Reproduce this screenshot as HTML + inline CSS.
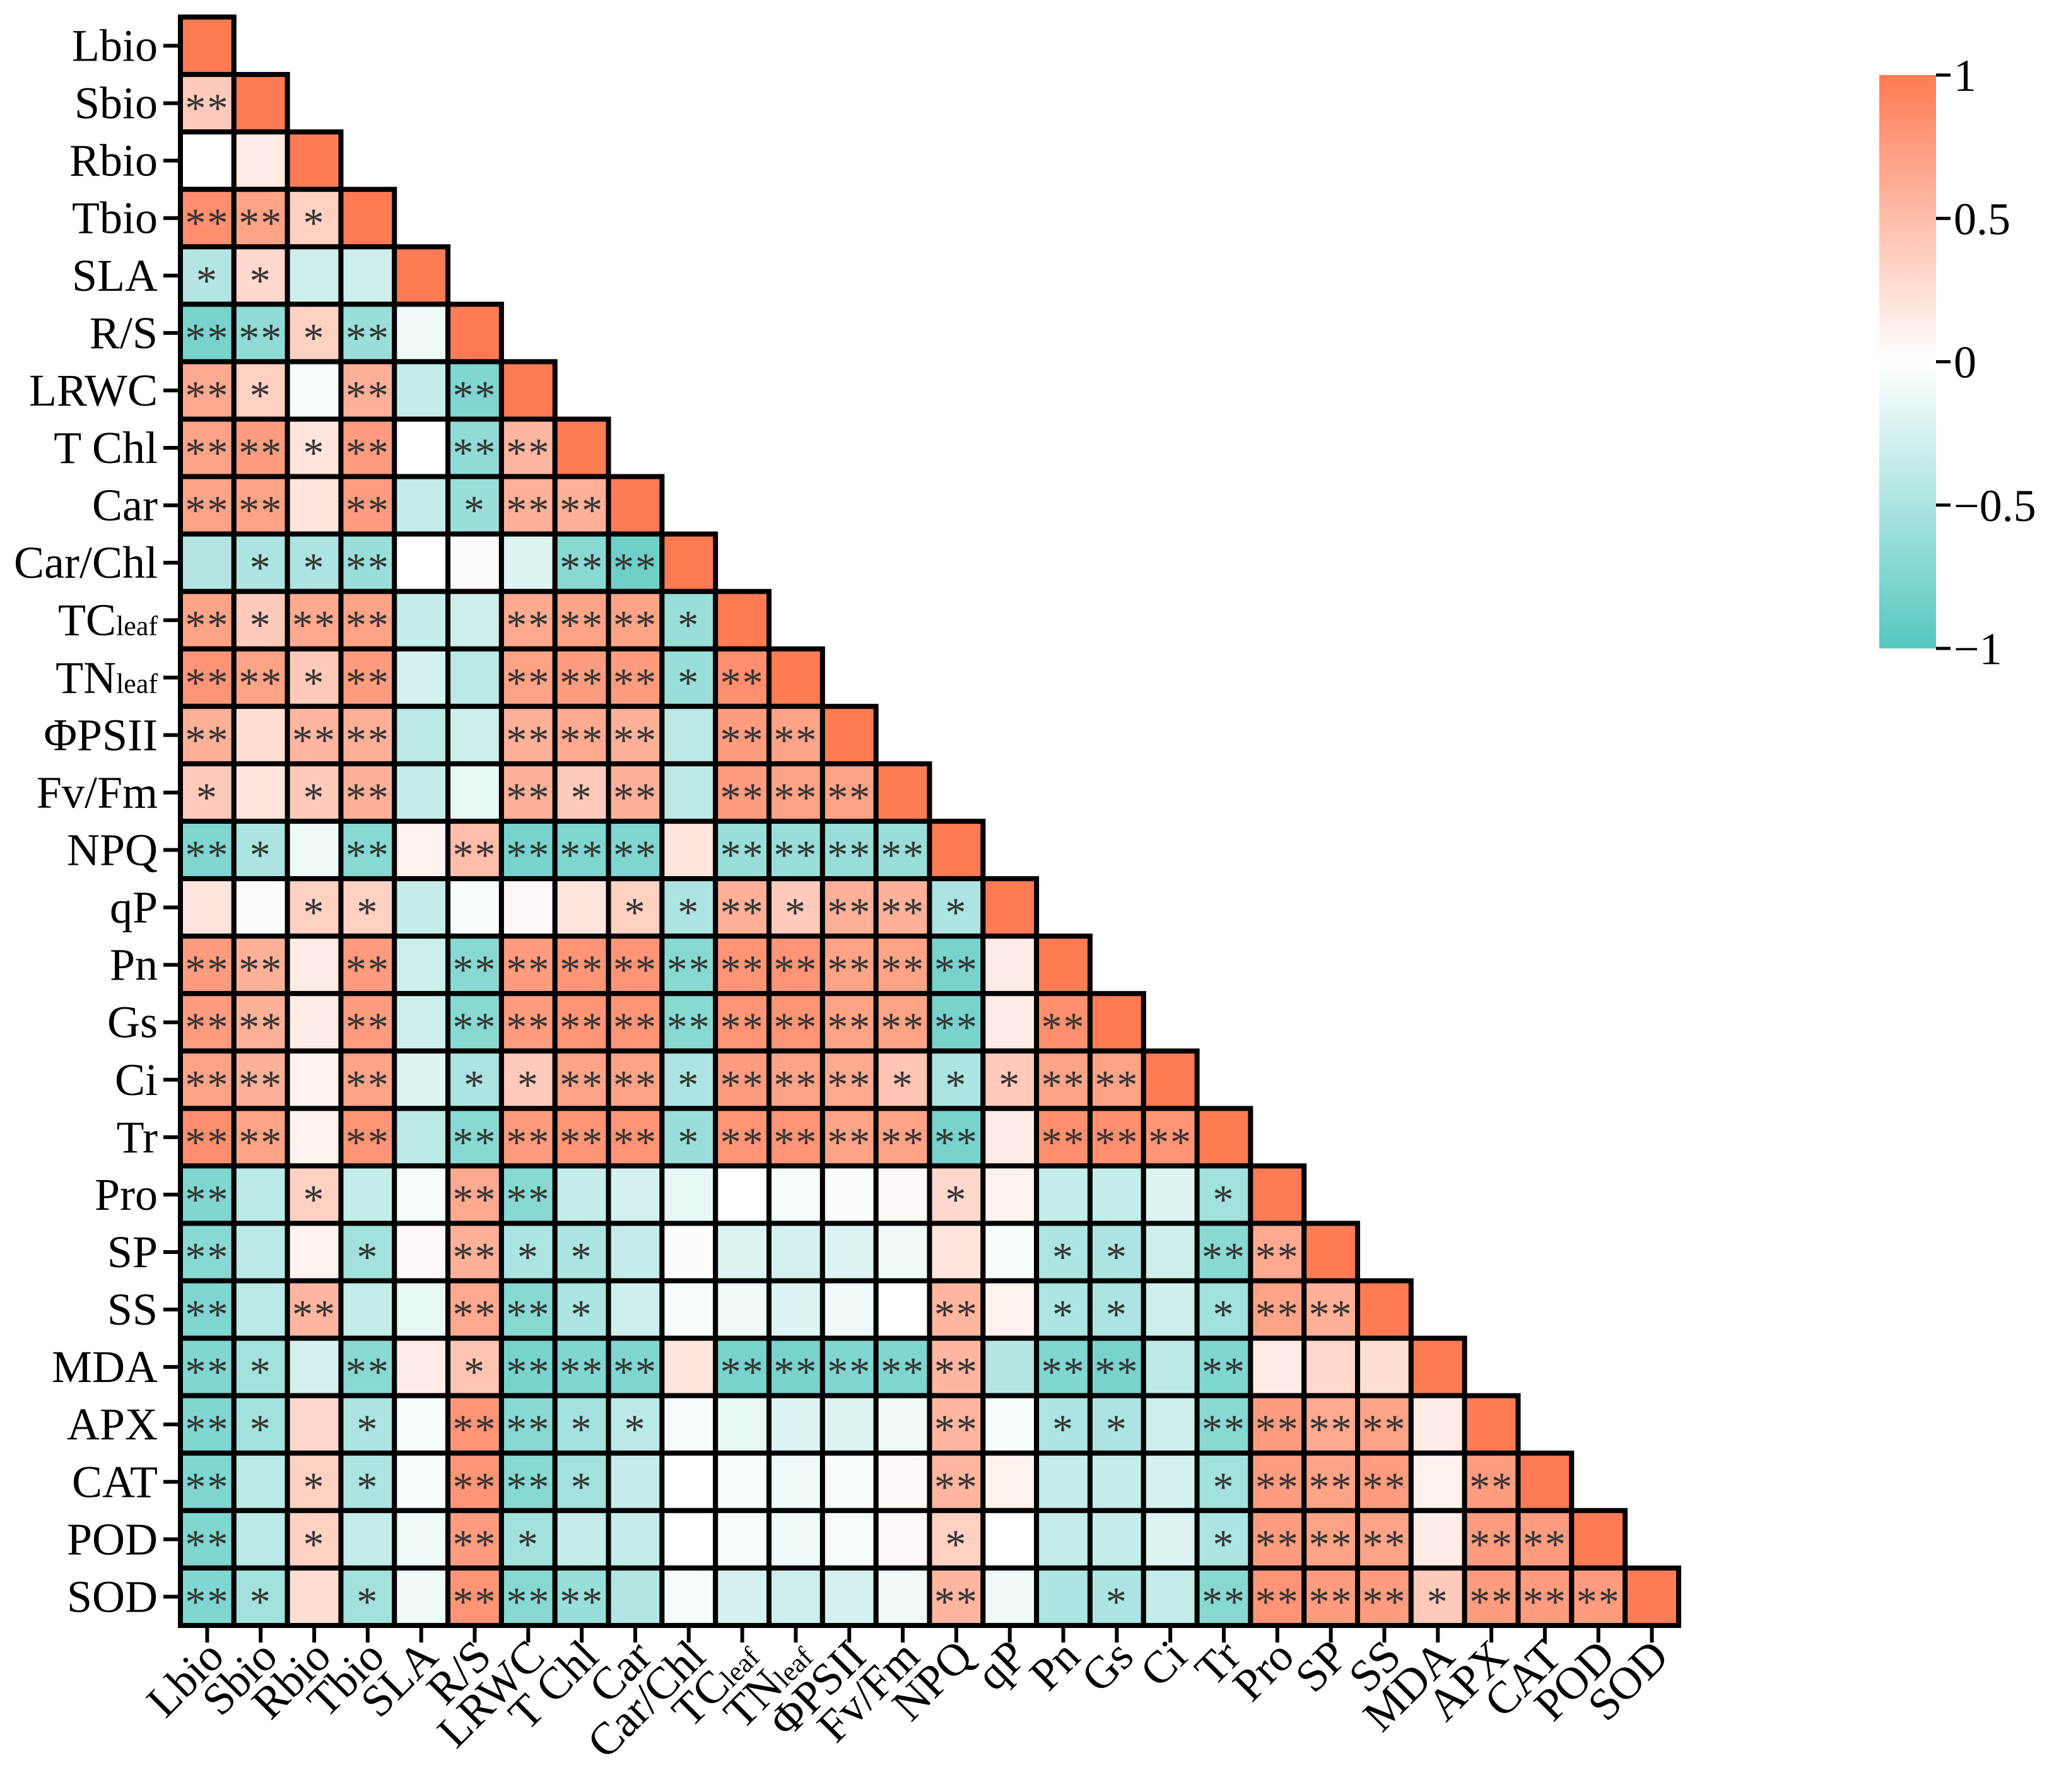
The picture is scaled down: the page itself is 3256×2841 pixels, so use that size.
<!DOCTYPE html>
<html><head><meta charset="utf-8">
<style>
html,body{margin:0;padding:0;background:#fff;}
svg{display:block;font-family:"Liberation Serif",serif;}
</style></head>
<body>
<svg id="chart" width="3256" height="2841" viewBox="0 0 3256 2841" xmlns="http://www.w3.org/2000/svg">
<defs>
<linearGradient id="cbgrad" x1="0" y1="0" x2="0" y2="1">
<stop offset="0" stop-color="rgb(255,123,84)"/>
<stop offset="0.5" stop-color="#ffffff"/>
<stop offset="1" stop-color="rgb(86,200,192)"/>
</linearGradient>
</defs>
<g id="cells"></g>
<g id="ylabels"></g>
<g id="xlabels"></g>
<g>
<rect x="2979" y="119" width="90" height="909" fill="url(#cbgrad)"/>
<g id="cbticks"></g>
</g>
</svg>
<script>
const labels = ["Lbio","Sbio","Rbio","Tbio","SLA","R/S","LRWC","T Chl","Car","Car/Chl","TC|leaf","TN|leaf","ΦPSII","Fv/Fm","NPQ","qP","Pn","Gs","Ci","Tr","Pro","SP","SS","MDA","APX","CAT","POD","SOD"];
const values = [
[],
[0.4],
[0.0,0.15],
[0.85,0.7,0.35],
[-0.45,0.3,-0.3,-0.3],
[-0.8,-0.65,0.35,-0.6,-0.1],
[0.65,0.35,-0.05,0.6,-0.35,-0.75],
[0.7,0.75,0.2,0.75,0.0,-0.65,0.55],
[0.7,0.7,0.2,0.75,-0.35,-0.6,0.6,0.6],
[-0.45,-0.5,-0.5,-0.6,0.0,0.03,-0.2,-0.7,-0.85],
[0.7,0.4,0.65,0.7,-0.35,-0.3,0.65,0.7,0.7,-0.6],
[0.8,0.7,0.4,0.75,-0.25,-0.4,0.7,0.75,0.75,-0.6,0.85],
[0.6,0.25,0.55,0.6,-0.4,-0.3,0.6,0.65,0.6,-0.4,0.75,0.7],
[0.4,0.2,0.4,0.6,-0.35,-0.15,0.6,0.4,0.6,-0.4,0.75,0.7,0.7],
[-0.75,-0.5,-0.1,-0.7,0.1,0.5,-0.8,-0.75,-0.75,0.2,-0.6,-0.6,-0.6,-0.6],
[0.2,0.03,0.35,0.35,-0.35,-0.05,0.05,0.2,0.35,-0.5,0.6,0.4,0.6,0.6,-0.5],
[0.75,0.6,0.15,0.75,-0.3,-0.7,0.75,0.8,0.8,-0.7,0.8,0.8,0.7,0.7,-0.8,0.15],
[0.75,0.6,0.15,0.75,-0.3,-0.7,0.75,0.8,0.8,-0.7,0.8,0.8,0.7,0.7,-0.8,0.15,0.85],
[0.7,0.6,0.1,0.7,-0.2,-0.5,0.4,0.7,0.7,-0.5,0.75,0.7,0.65,0.45,-0.5,0.4,0.7,0.7],
[0.85,0.7,0.1,0.8,-0.4,-0.7,0.75,0.8,0.8,-0.6,0.8,0.8,0.7,0.7,-0.8,0.15,0.85,0.85,0.8],
[-0.75,-0.4,0.35,-0.35,-0.05,0.65,-0.7,-0.35,-0.25,-0.15,0.0,-0.05,-0.03,0.05,0.3,0.1,-0.35,-0.35,-0.2,-0.55],
[-0.7,-0.4,0.1,-0.55,0.05,0.6,-0.5,-0.5,-0.35,0.03,-0.2,-0.25,-0.2,-0.1,0.2,-0.05,-0.5,-0.5,-0.3,-0.7,0.65],
[-0.75,-0.4,0.55,-0.35,-0.15,0.65,-0.7,-0.5,-0.3,-0.05,-0.1,-0.2,-0.1,0.0,0.55,0.1,-0.5,-0.5,-0.3,-0.55,0.7,0.6],
[-0.75,-0.55,-0.25,-0.7,0.15,0.45,-0.8,-0.75,-0.75,0.2,-0.8,-0.8,-0.75,-0.75,0.55,-0.45,-0.75,-0.8,-0.4,-0.75,0.15,0.3,0.25],
[-0.75,-0.55,0.3,-0.5,-0.05,0.8,-0.7,-0.55,-0.4,-0.05,-0.15,-0.2,-0.2,-0.1,0.55,-0.05,-0.5,-0.5,-0.3,-0.7,0.75,0.65,0.7,0.15],
[-0.75,-0.4,0.35,-0.5,-0.05,0.8,-0.7,-0.55,-0.35,0.0,-0.05,-0.1,-0.05,0.05,0.55,0.1,-0.35,-0.35,-0.25,-0.55,0.75,0.7,0.75,0.1,0.75],
[-0.75,-0.4,0.35,-0.35,-0.1,0.75,-0.55,-0.35,-0.35,0.0,-0.05,-0.1,-0.05,0.05,0.35,0.0,-0.35,-0.35,-0.2,-0.5,0.75,0.7,0.7,0.15,0.75,0.75],
[-0.75,-0.55,0.25,-0.55,-0.1,0.8,-0.7,-0.6,-0.45,-0.05,-0.25,-0.3,-0.25,-0.1,0.55,-0.1,-0.5,-0.5,-0.35,-0.7,0.8,0.75,0.75,0.4,0.75,0.75,0.75]
];
const sigs = [
[],
["**"],
["",""],
["**","**","*"],
["*","*","",""],
["**","**","*","**",""],
["**","*","","**","","**"],
["**","**","*","**","","**","**"],
["**","**","","**","","*","**","**"],
["","*","*","**","","","","**","**"],
["**","*","**","**","","","**","**","**","*"],
["**","**","*","**","","","**","**","**","*","**"],
["**","","**","**","","","**","**","**","","**","**"],
["*","","*","**","","","**","*","**","","**","**","**"],
["**","*","","**","","**","**","**","**","","**","**","**","**"],
["","","*","*","","","","","*","*","**","*","**","**","*"],
["**","**","","**","","**","**","**","**","**","**","**","**","**","**",""],
["**","**","","**","","**","**","**","**","**","**","**","**","**","**","","**"],
["**","**","","**","","*","*","**","**","*","**","**","**","*","*","*","**","**"],
["**","**","","**","","**","**","**","**","*","**","**","**","**","**","","**","**","**"],
["**","","*","","","**","**","","","","","","","","*","","","","","*"],
["**","","","*","","**","*","*","","","","","","","","","*","*","","**","**"],
["**","","**","","","**","**","*","","","","","","","**","","*","*","","*","**","**"],
["**","*","","**","","*","**","**","**","","**","**","**","**","**","","**","**","","**","","",""],
["**","*","","*","","**","**","*","*","","","","","","**","","*","*","","**","**","**","**",""],
["**","","*","*","","**","**","*","","","","","","","**","","","","","*","**","**","**","","**"],
["**","","*","","","**","*","","","","","","","","*","","","","","*","**","**","**","","**","**"],
["**","*","","*","","**","**","**","","","","","","","**","","","*","","**","**","**","**","*","**","**","**"]
];
const cbTicks = [1,0.5,0,-0.5,-1];
const cbTickLabels = ["1","0.5","0","\u22120.5","\u22121"];

const NS="http://www.w3.org/2000/svg";
const X0=286, Y0=27, CW=84.82, CH=91.07, N=labels.length;
const xAt=i=>X0+i*CW, yAt=j=>Y0+j*CH;
function color(v){
  v=Math.max(-1,Math.min(1,v));
  let c = v>=0 ? [255,123,84] : [86,200,192];
  let t=Math.abs(v);
  return `rgb(${Math.round(255+(c[0]-255)*t)},${Math.round(255+(c[1]-255)*t)},${Math.round(255+(c[2]-255)*t)})`;
}
function mk(tag,attrs,parent){const e=document.createElementNS(NS,tag);for(const k in attrs)e.setAttribute(k,attrs[k]);parent.appendChild(e);return e;}
const cells=document.getElementById('cells');
for(let r=0;r<N;r++){
  for(let c=0;c<=r;c++){
    const v = c===r ? 1 : values[r][c];
    const rect=mk('rect',{x:xAt(c),y:yAt(r),width:CW,height:CH,fill:color(v),stroke:'#000','stroke-width':8},cells);
    
    
    const s = c===r ? "" : sigs[r][c];
    if(s){
      const t=mk('text',{x:xAt(c)+CW/2,y:yAt(r)+CH/2+30,'text-anchor':'middle','font-size':66,fill:'#333','letter-spacing':2},cells);
      t.textContent=s;
      
      
    }
  }
}
// outline re-stroke on top to keep borders crisp
const yl=document.getElementById('ylabels'), xl=document.getElementById('xlabels');
function addLabel(t,lab){
  const parts=lab.split('|');
  t.appendChild(document.createTextNode(parts[0]));
  if(parts[1]){const sp=mk('tspan',{'font-size':44},t);sp.textContent=parts[1];}
}
for(let i=0;i<N;i++){
  const cy=yAt(i)+CH/2, cx=xAt(i)+CW/2;
  const tk=mk('line',{x1:259,y1:cy,x2:282,y2:cy,stroke:'#000','stroke-width':6},yl);
  
  
  const t=mk('text',{x:250,y:cy+24,'text-anchor':'end','font-size':72,fill:'#000'},yl);
  addLabel(t,labels[i]);
  
  
  const tx=mk('line',{x1:cx,y1:2581,x2:cx,y2:2604,stroke:'#000','stroke-width':6},xl);
  
  
  const ax=cx+30, ay=2630;
  const t2=mk('text',{x:ax,y:ay,'text-anchor':'end','font-size':72,fill:'#000',transform:`rotate(-45 ${ax} ${ay})`},xl);
  addLabel(t2,labels[i]);
  
  
}
const cb=document.getElementById('cbticks');
const cbY=v=>119+(1-v)/2*909;
cbTicks.forEach((v,i)=>{
  const y=cbY(v);
  const l=mk('line',{x1:3069,y1:y,x2:3092,y2:y,stroke:'#000','stroke-width':5},cb);
  
  
  const t=mk('text',{x:3097,y:y+25,'font-size':72,fill:'#000'},cb);
  t.textContent=cbTickLabels[i];
  
  
});
</script>
</body></html>
